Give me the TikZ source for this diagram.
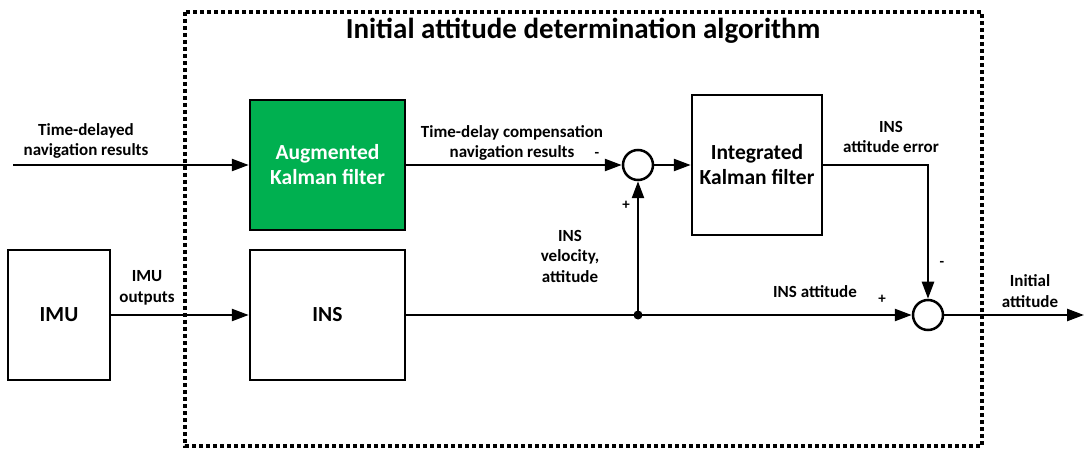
\documentclass[tikz,border=0pt]{standalone}
\usepackage{fontspec}
\setmainfont{Carlito}
\usetikzlibrary{arrows.meta}
\definecolor{kgreen}{RGB}{0,176,80}
\tikzset{
  blk/.style={draw, line width=2.5pt, minimum width=#1, inner sep=0pt, align=center, font=\fontsize{21.5}{25}\selectfont\bfseries},
  sumc/.style={draw, circle, line width=2.5pt, minimum size=30pt, inner sep=0pt},
  sig/.style={line width=2.5pt, -{Triangle[length=17pt,width=12pt]}},
  lbl/.style={font=\fontsize{17}{20.5}\selectfont\bfseries, align=center, inner sep=0pt},
  sgn/.style={font=\fontsize{15}{17}\selectfont\bfseries, inner sep=0pt}
}
\begin{document}
\begin{tikzpicture}[x=1pt,y=-1pt]
\useasboundingbox (0,0) rectangle (1085,449);
% dashed frame
\draw[line width=3.5pt, dash pattern=on 4pt off 3pt] (185,12) rectangle (982,446);
\node[font=\fontsize{29}{34}\selectfont\bfseries] (title) at (583,31) {Initial attitude determination algorithm};
% blocks
\node[blk=155pt, minimum height=130pt, fill=kgreen, text=white] (akf) at (327.5,165) {Augmented\\Kalman filter};
\node[blk=155pt, minimum height=130pt] (ins) at (327.5,315) {INS};
\node[blk=102pt, minimum height=130pt] (imu) at (59,315) {IMU};
\node[blk=130pt, minimum height=140pt] (ikf) at (757,165) {Integrated\\Kalman filter};
\node[sumc] (s1) at (638,165) {};
\node[sumc] (s2) at (928,315) {};
\coordinate (in1) at (13,165);
\coordinate (out) at (1084,315);
\coordinate (j) at (638,315);
\coordinate (c1) at (928,165);
% connectors
\draw[sig] (in1) -- (akf.west);
\draw[sig] (akf.east) -- (s1.west);
\draw[sig] (s1.east) -- (ikf.west);
\draw[sig] (imu.east) -- (ins.west);
\draw[sig] (ins.east) -- (s2.west);
\draw[sig] (j) -- (s1.south);
\fill (j) circle (4.5pt);
\draw[sig] (ikf.east) -- (c1) -- (s2.north);
\draw[sig] (s2.east) -- (out);
% labels
\node[lbl] (l1) at (86,141) {Time-delayed\\navigation results};
\node[lbl] (l2) at (512,143) {Time-delay compensation\\navigation results};
\node[sgn] (m1) at (597,155) {-};
\node[sgn] (p1) at (626,205) {+};
\node[lbl] (l3) at (891,137) {INS\\attitude error};
\node[sgn] (m2) at (942,264) {-};
\node[lbl] (l4) at (570,256) {INS\\velocity,\\attitude};
\node[lbl] (l5) at (815,292) {INS attitude};
\node[sgn] (p2) at (882,299) {+};
\node[lbl] (l6) at (1030,291) {Initial\\attitude};
\node[lbl] (l7) at (147,288) {IMU\\outputs};
\end{tikzpicture}
\end{document}
